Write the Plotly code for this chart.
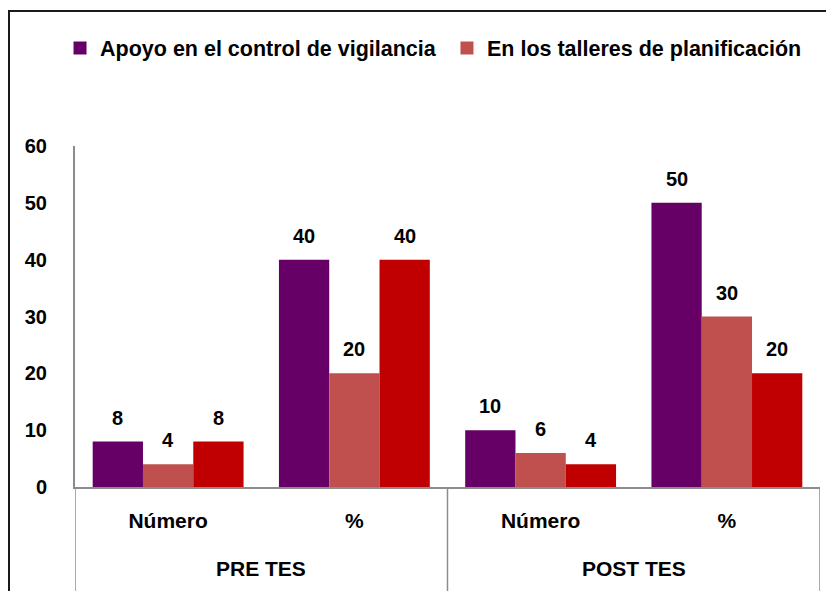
import plotly.graph_objects as go

groups = ["PRE TES", "POST TES"]
subcats = ["Número", "%", "Número", "%"]

series_names = ["Apoyo en el control de vigilancia", "En los talleres de planificación", "Serie 3"]
apoyo = [8, 40, 10, 50]
talleres = [4, 20, 6, 30]
serie3 = [8, 40, 4, 20]
colors = ["#660066", "#C0504D", "#C00000"]
show_legend = [True, True, False]

FONT = "Liberation Sans, Arial, sans-serif"
BARGAP = 0.19
xpos = list(range(len(subcats)))
ntr = 3
bw = (1 - BARGAP) / ntr

fig = go.Figure()
annotations = []
for i, (name, vals, col) in enumerate(zip(series_names, [apoyo, talleres, serie3], colors)):
    fig.add_trace(go.Bar(
        x=xpos, y=vals, name=name, marker_color=col,
        marker_line_width=0, showlegend=False,
    ))
    for xv, v in zip(xpos, vals):
        annotations.append(dict(x=xv + (i - (ntr - 1) / 2) * bw, y=v, xref="x", yref="y",
                                text=str(v), showarrow=False, yanchor="bottom", yshift=11,
                                font=dict(family=FONT, size=20, color="black", weight="bold")))

# legend-only entries with larger square symbols, each in its own legend box
legend_ids = ["legend", "legend2"]
li = 0
for name, col, sl in zip(series_names, colors, show_legend):
    if sl:
        fig.add_trace(go.Scatter(x=[None], y=[None], mode="markers", name=name,
                                 marker=dict(symbol="square", size=13, color=col),
                                 showlegend=True, legend=legend_ids[li]))
        li += 1

# group labels and dividers
for g, gname in enumerate(groups):
    annotations.append(dict(x=2 * g + 0.5, y=-81 / 341, xref="x", yref="paper", text=gname,
                            showarrow=False, yanchor="middle",
                            font=dict(family=FONT, size=21, color="black", weight="bold")))

shapes = []
for xd in [-0.5, 1.5, 3.5]:
    shapes.append(dict(type="line", xref="x", yref="paper", x0=xd, x1=xd, y0=0, y1=-0.35,
                       line=dict(color="#8c8c8c", width=1.5)))
shapes.append(dict(type="rect", xref="paper", yref="paper",
                   x0=(1 - 67) / 745, x1=1.2, y0=-0.6, y1=(479 - 3) / 341,
                   line=dict(color="#1a1a1a", width=2), fillcolor="rgba(0,0,0,0)", layer="below"))

legend_common = dict(orientation="h", xanchor="left", y=(479 - 40) / 341, yanchor="middle",
                     font=dict(family=FONT, size=21.5, color="black", weight="bold"),
                     itemwidth=30, itemsizing="trace", bgcolor="rgba(0,0,0,0)")

fig.update_layout(
    width=826, height=583,
    margin=dict(l=67, r=14, t=138, b=104),
    paper_bgcolor="white", plot_bgcolor="white",
    barmode="group", bargap=BARGAP, bargroupgap=0,
    font=dict(family=FONT, size=20, color="black"),
    legend=dict(x=-0.0201, **legend_common),
    legend2=dict(x=0.4993, **legend_common),
    xaxis=dict(range=[-0.5, 3.5], tickvals=xpos, ticktext=subcats, showline=True,
               linecolor="#8c8c8c", linewidth=2, ticks="", showgrid=False, zeroline=False,
               ticklabelstandoff=14,
               tickfont=dict(family=FONT, size=21, color="black", weight="bold")),
    yaxis=dict(range=[0, 60], dtick=10, showline=True, linecolor="#8c8c8c", linewidth=2,
               showgrid=False, zeroline=False, ticks="", ticklabelstandoff=22,
               tickfont=dict(family=FONT, size=20, color="black", weight="bold")),
    annotations=annotations,
    shapes=shapes,
)

fig.write_html("out.html")
